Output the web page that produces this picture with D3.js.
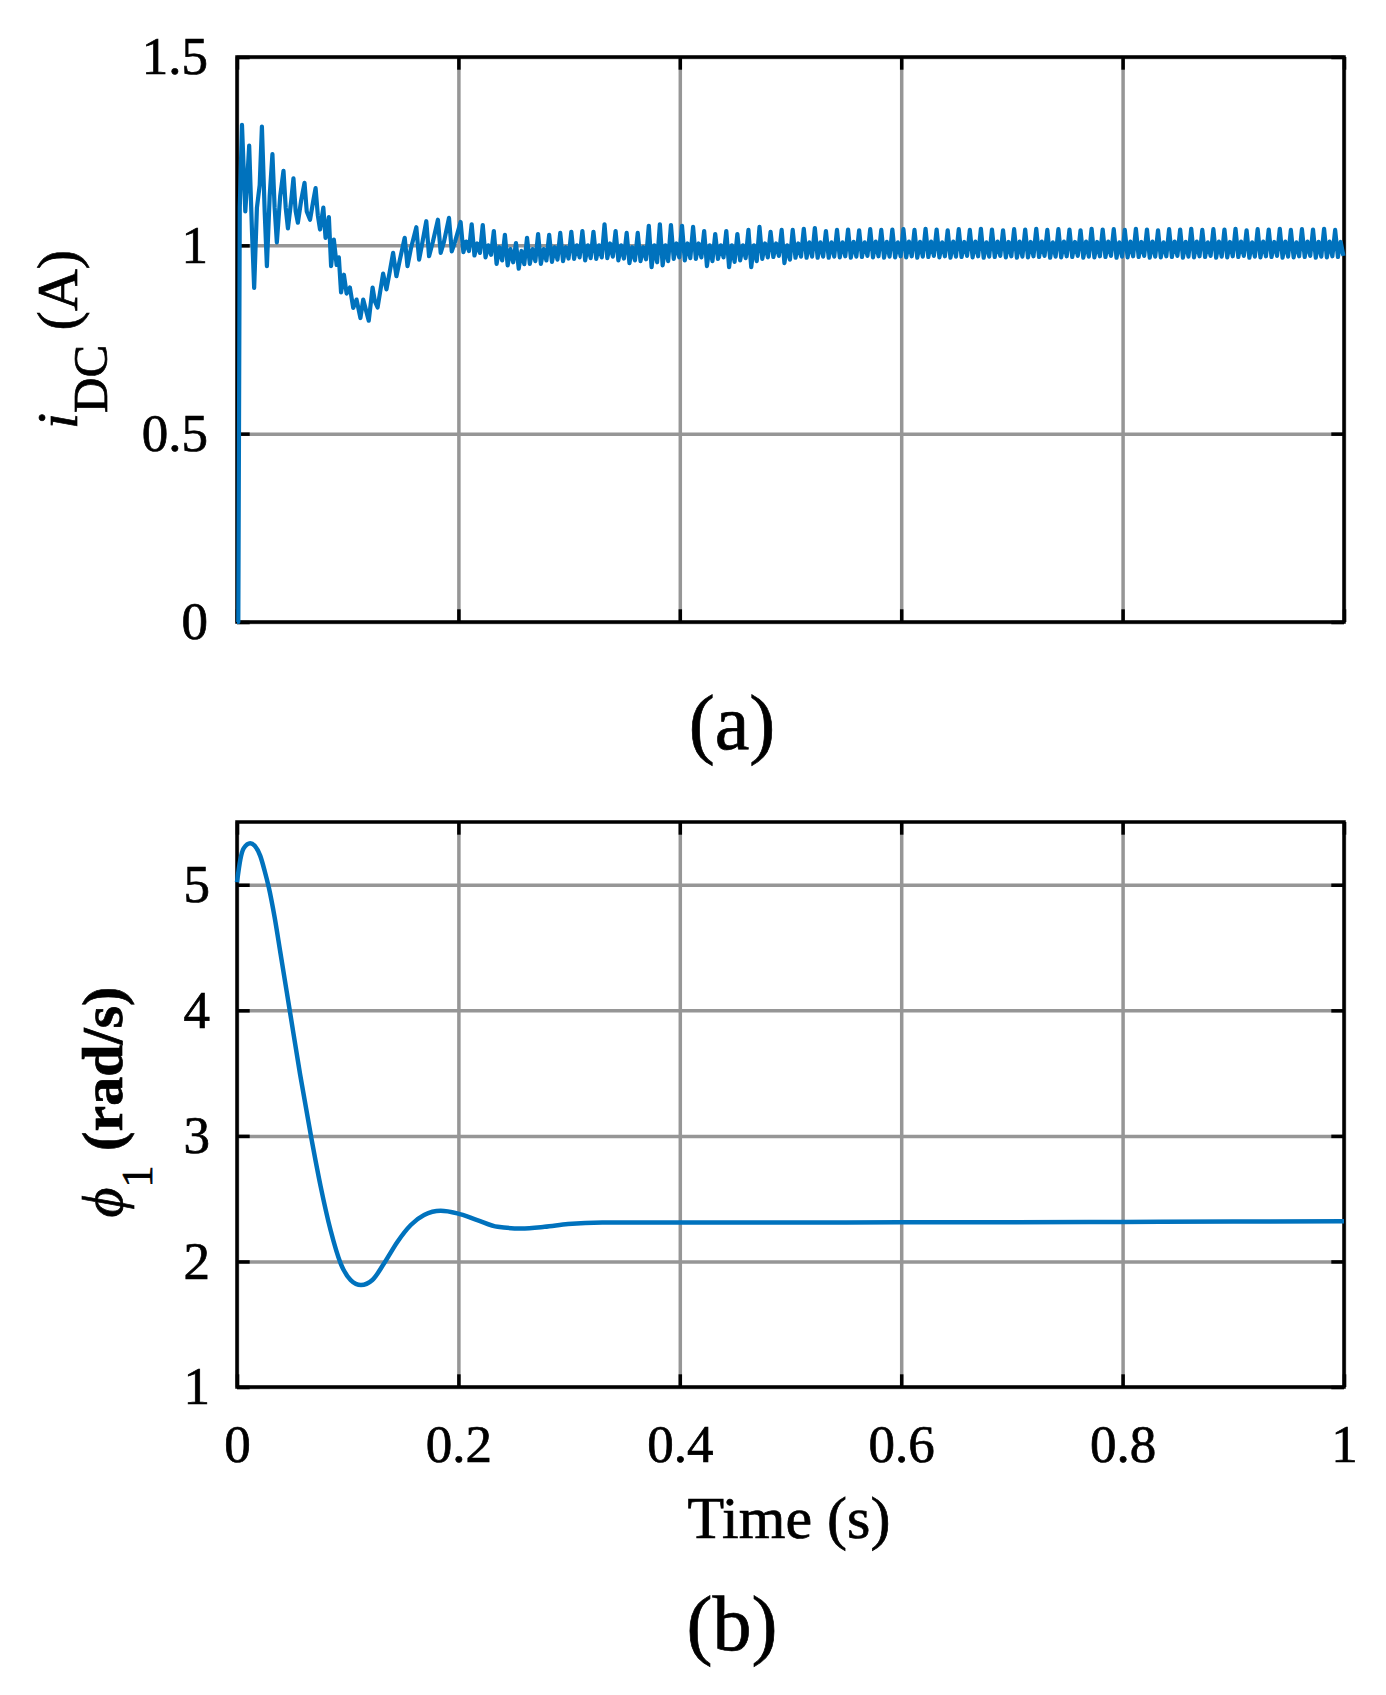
<!DOCTYPE html>
<html>
<head>
<meta charset="utf-8">
<script src="https://cdn.jsdelivr.net/npm/d3@7"></script>
<style>
body { margin: 0; background: #fff; }
svg { display: block; }
text { font-family: "Liberation Serif", "Times New Roman", serif; fill: #000; stroke: #000; stroke-width: 0.7px; }
</style>
</head>
<body>
<svg id="chart" width="1386" height="1695"></svg>
<script>
// shared time axis
const timeTicks = [0, 0.2, 0.4, 0.6, 0.8, 1];

// (a) i_DC start-up, read point by point (s, A)
const iStartT = [0, 0.0012, 0.0025, 0.0045, 0.0075, 0.009, 0.011, 0.0135, 0.0155, 0.018,
    0.0205, 0.0225, 0.025, 0.027, 0.0295, 0.032, 0.034, 0.036, 0.039, 0.042,
    0.044, 0.046, 0.049, 0.051, 0.053, 0.055, 0.058, 0.061, 0.063, 0.066,
    0.069, 0.071, 0.073, 0.075, 0.078, 0.080, 0.083, 0.085, 0.0875, 0.090,
    0.092, 0.094, 0.0966, 0.099, 0.102, 0.105, 0.108, 0.1115, 0.114, 0.1165,
    0.119, 0.1225, 0.1245, 0.127, 0.132, 0.135, 0.138, 0.141, 0.144, 0.147,
    0.1515, 0.154, 0.157, 0.162, 0.1645, 0.167, 0.171, 0.1735, 0.177, 0.1815,
    0.184, 0.187, 0.1915, 0.194, 0.197];
const iStartV = [0, 0, 1.10, 1.32, 1.09, 1.16, 1.265, 1.04, 0.887, 1.10,
    1.16, 1.315, 1.09, 0.945, 1.13, 1.242, 1.10, 1.008, 1.13, 1.198,
    1.10, 1.045, 1.12, 1.178, 1.09, 1.06, 1.12, 1.166, 1.09, 1.068,
    1.12, 1.152, 1.08, 1.042, 1.10, 1.02, 1.075, 0.945, 1.015, 0.948,
    0.968, 0.875, 0.922, 0.872, 0.888, 0.834, 0.856, 0.807, 0.856, 0.828,
    0.80, 0.888, 0.852, 0.835, 0.925, 0.883, 0.93, 0.98, 0.918, 0.96,
    1.02, 0.945, 0.99, 1.048, 0.962, 1.0, 1.064, 0.971, 1.01, 1.068,
    0.98, 1.01, 1.073, 0.984, 1.01];

// (a) ripple after 0.2 s, sampled every 2.5 ms; one line per ~100 Hz cycle: peak, low, band, low
const iRippleT0 = 0.202;
const iRippleStep = 0.0025;
const iRipple = [
    1.062, 0.982, 1.010, 0.985,
    1.056, 0.973, 1.005, 0.980,
    1.054, 0.968, 1.000, 0.975,
    1.038, 0.951, 0.995, 0.960,
    1.028, 0.947, 0.990, 0.955,
    1.006, 0.938, 0.985, 0.950,
    1.020, 0.951, 0.990, 0.958,
    1.030, 0.951, 0.990, 0.960,
    1.028, 0.956, 0.995, 0.962,
    1.033, 0.958, 0.995, 0.965,
    1.036, 0.964, 1.000, 0.968,
    1.038, 0.960, 1.000, 0.966,
    1.036, 0.964, 1.000, 0.968,
    1.056, 0.966, 1.005, 0.970,
    1.038, 0.960, 1.000, 0.965,
    1.033, 0.953, 0.995, 0.960,
    1.033, 0.958, 0.995, 0.963,
    1.052, 0.942, 1.000, 0.955,
    1.056, 0.947, 1.000, 0.958,
    1.054, 0.964, 1.005, 0.968,
    1.052, 0.960, 1.005, 0.966,
    1.049, 0.964, 1.005, 0.968,
    1.038, 0.945, 1.000, 0.958,
    1.030, 0.964, 1.000, 0.968,
    1.038, 0.942, 1.000, 0.956,
    1.030, 0.960, 1.000, 0.966,
    1.041, 0.942, 1.000, 0.958,
    1.049, 0.964, 1.005, 0.968,
    1.036, 0.969, 1.005, 0.972,
    1.041, 0.953, 1.000, 0.962,
    1.041, 0.967, 1.005, 0.970,
    1.044, 0.967, 1.008, 0.970,
    1.046, 0.967, 1.008, 0.970,
    1.038, 0.967, 1.008, 0.970,
    1.041, 0.968, 1.008, 0.971,
    1.042, 0.967, 1.009, 0.970,
    1.040, 0.969, 1.008, 0.972,
    1.043, 0.968, 1.010, 0.971,
    1.041, 0.967, 1.009, 0.970,
    1.042, 0.968, 1.008, 0.971,
    1.043, 0.968, 1.010, 0.971,
    1.041, 0.967, 1.009, 0.970,
    1.044, 0.969, 1.010, 0.972,
    1.042, 0.968, 1.008, 0.971,
    1.040, 0.967, 1.010, 0.970,
    1.043, 0.969, 1.009, 0.972,
    1.041, 0.968, 1.010, 0.971,
    1.044, 0.967, 1.008, 0.970,
    1.042, 0.969, 1.010, 0.972,
    1.040, 0.968, 1.009, 0.971,
    1.043, 0.967, 1.010, 0.970,
    1.042, 0.968, 1.009, 0.971,
    1.044, 0.969, 1.010, 0.972,
    1.041, 0.967, 1.008, 0.970,
    1.043, 0.968, 1.010, 0.971,
    1.042, 0.969, 1.009, 0.972,
    1.040, 0.967, 1.010, 0.970,
    1.044, 0.968, 1.009, 0.971,
    1.042, 0.969, 1.010, 0.972,
    1.043, 0.967, 1.008, 0.970,
    1.041, 0.968, 1.010, 0.971,
    1.044, 0.969, 1.009, 0.972,
    1.042, 0.967, 1.010, 0.970,
    1.040, 0.968, 1.008, 0.971,
    1.043, 0.969, 1.010, 0.972,
    1.042, 0.967, 1.009, 0.970,
    1.044, 0.968, 1.010, 0.971,
    1.041, 0.969, 1.008, 0.972,
    1.043, 0.967, 1.010, 0.970,
    1.042, 0.968, 1.009, 0.971,
    1.044, 0.969, 1.010, 0.972,
    1.040, 0.967, 1.008, 0.970,
    1.043, 0.968, 1.010, 0.971,
    1.042, 0.969, 1.009, 0.972,
    1.044, 0.967, 1.010, 0.970,
    1.041, 0.968, 1.008, 0.971,
    1.043, 0.969, 1.010, 0.972,
    1.042, 0.967, 1.009, 0.970,
    1.044, 0.968, 1.010, 0.971,
    1.041, 0.969, 1.009, 0.972
];
const iTicks = [0, 0.5, 1, 1.5];

// (b) phi_1 (s, rad/s)
const phiT = [0, 0.003, 0.006, 0.012, 0.016, 0.021, 0.025, 0.0287, 0.034, 0.039,
    0.048, 0.057, 0.067, 0.0755, 0.0845, 0.0936, 0.1027, 0.112, 0.1223, 0.1329,
    0.145, 0.157, 0.169, 0.184, 0.199, 0.217, 0.2355, 0.2566, 0.2778, 0.299,
    0.33, 0.4, 0.5, 0.6, 0.7, 0.8, 0.9, 1.0];
const phiV = [5.02, 5.20, 5.29, 5.33, 5.31, 5.23, 5.11, 4.98, 4.74, 4.47,
    3.98, 3.49, 2.99, 2.60, 2.25, 1.985, 1.852, 1.812, 1.852, 1.985,
    2.157, 2.29, 2.37, 2.403, 2.383, 2.33, 2.276, 2.263, 2.276, 2.298,
    2.31, 2.31, 2.31, 2.312, 2.312, 2.315, 2.318, 2.32];
const phiTicks = [1, 2, 3, 4, 5];

const plotLeft = 237, plotRight = 1344;
const lineColor = "#0072bd";
const svg = d3.select("#chart");

function styleAxis(sel, size) {
    sel.attr("font-size", size).attr("font-family", "Liberation Serif, Times New Roman, serif");
    sel.select(".domain").remove();
    sel.selectAll("line").attr("stroke", "#000").attr("stroke-width", 3.5);
}

function drawPanel(opts) {
    const x = d3.scaleLinear().domain([0, 1]).range([plotLeft, plotRight]);
    const y = d3.scaleLinear().domain(opts.yDomain).range([opts.bottom, opts.top]);
    const h = opts.bottom - opts.top;
    const w = plotRight - plotLeft;
    const g = svg.append("g");

    // grid
    g.append("g").attr("transform", `translate(0,${opts.bottom})`)
        .call(d3.axisBottom(x).tickValues(timeTicks).tickSize(-h).tickFormat(""))
        .call(a => a.select(".domain").remove())
        .selectAll("line").attr("stroke", "#969696").attr("stroke-width", 3.5);
    g.append("g").attr("transform", `translate(${plotLeft},0)`)
        .call(d3.axisLeft(y).tickValues(opts.yTicks).tickSize(-w).tickFormat(""))
        .call(a => a.select(".domain").remove())
        .selectAll("line").attr("stroke", "#969696").attr("stroke-width", 3.5);

    // box
    g.append("rect")
        .attr("x", plotLeft).attr("y", opts.top)
        .attr("width", w).attr("height", h)
        .attr("fill", "none").attr("stroke", "#000").attr("stroke-width", 3.5);

    // inward ticks on all four sides
    const tk = -12.7;
    g.append("g").attr("transform", `translate(0,${opts.bottom})`)
        .call(d3.axisBottom(x).tickValues(timeTicks).tickSize(tk).tickPadding(37.4)
            .tickFormat(opts.showTime ? d => String(d) : ""))
        .call(a => styleAxis(a, 53));
    g.append("g").attr("transform", `translate(0,${opts.top})`)
        .call(d3.axisTop(x).tickValues(timeTicks).tickSize(tk).tickFormat(""))
        .call(a => styleAxis(a, 53));
    g.append("g").attr("transform", `translate(${plotLeft},0)`)
        .call(d3.axisLeft(y).tickValues(opts.yTicks).tickSize(tk).tickPadding(opts.labelPad)
            .tickFormat(d => String(d)))
        .call(a => styleAxis(a, 53));
    g.append("g").attr("transform", `translate(${plotRight},0)`)
        .call(d3.axisRight(y).tickValues(opts.yTicks).tickSize(tk).tickFormat(""))
        .call(a => styleAxis(a, 53));

    // data
    const line = d3.line().x(d => x(d[0])).y(d => y(d[1])).curve(opts.curve);
    g.append("path")
        .datum(opts.points)
        .attr("d", line)
        .attr("fill", "none")
        .attr("stroke", lineColor)
        .attr("stroke-width", opts.lineWidth)
        .attr("stroke-linejoin", "round");

    return g;
}

const iPoints = iStartT.map((t, i) => [t, iStartV[i]])
    .concat(iRipple.map((v, i) => [iRippleT0 + i * iRippleStep, v]));
const phiPoints = phiT.map((t, i) => [t, phiV[i]]);

drawPanel({
    top: 57, bottom: 622, yDomain: [0, 1.5], yTicks: iTicks,
    showTime: false, labelPad: 29, points: iPoints,
    curve: d3.curveLinear, lineWidth: 4.2
});

drawPanel({
    top: 822, bottom: 1387, yDomain: [1, 5.5], yTicks: phiTicks,
    showTime: true, labelPad: 27, points: phiPoints,
    curve: d3.curveMonotoneX, lineWidth: 4.5
});

// y labels
const labA = svg.append("text")
    .attr("transform", "translate(77,339.5) rotate(-90)")
    .attr("text-anchor", "middle")
    .attr("font-size", 58);
labA.append("tspan").attr("font-style", "italic").text("i");
labA.append("tspan").attr("font-size", 49).attr("dy", 30).text("DC");
labA.append("tspan").attr("dy", -30).text("\u00a0(A)");

const labB = svg.append("text")
    .attr("transform", "translate(122,1102) rotate(-90)")
    .attr("text-anchor", "middle")
    .attr("font-size", 58);
labB.append("tspan").attr("font-style", "italic").text("\u03d5");
labB.append("tspan").attr("font-size", 44).attr("dy", 30).text("1");
labB.append("tspan").attr("dy", -30).attr("font-weight", "bold").text("\u00a0(rad/s)");

// x label and captions
svg.append("text").attr("x", 789).attr("y", 1538)
    .attr("text-anchor", "middle").attr("font-size", 60).text("Time (s)");
svg.append("text").attr("x", 732).attr("y", 749)
    .attr("text-anchor", "middle").attr("font-size", 78).text("(a)");
svg.append("text").attr("x", 732).attr("y", 1650)
    .attr("text-anchor", "middle").attr("font-size", 78).text("(b)");
</script>
</body>
</html>
